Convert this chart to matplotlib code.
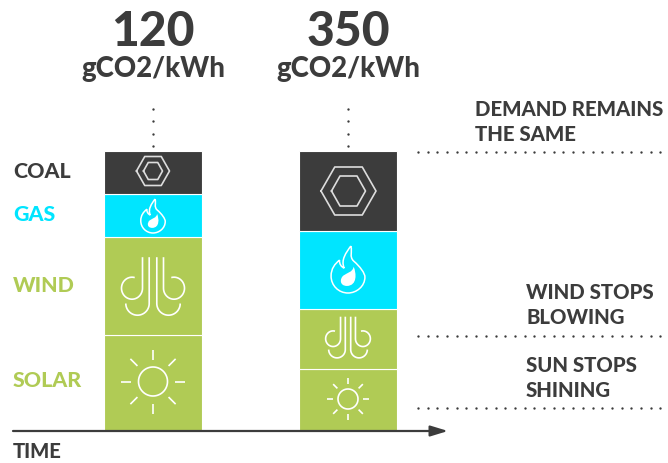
import numpy as np
import matplotlib
matplotlib.use("Agg")
import matplotlib.pyplot as plt
from matplotlib.path import Path
from matplotlib.patches import PathPatch

sources = ["SOLAR", "WIND", "GAS", "COAL"]
scenario_a = [96, 98, 43, 43]
scenario_b = [62, 60, 78, 80]
intensity = ["120", "350"]
unit = "gCO2/kWh"
source_colors = ["#b0cb55", "#b0cb55", "#00e5ff", "#3c3c3c"]
notes = ["DEMAND REMAINS\nTHE SAME", "WIND STOPS\nBLOWING", "SUN STOPS\nSHINING"]

DARK = "#3c3c3c"
plt.rcParams["font.family"] = "Lato"
W = "black"

fig = plt.figure(figsize=(6.68, 4.63), dpi=100)
ax = fig.add_axes([0, 0, 1, 1])
ax.set_xlim(0, 668)
BASE = 431
ax.set_ylim(BASE - 463, BASE)   # y = height above the time axis, in px
ax.axis("off")

def Y(py):
    return BASE - np.asarray(py, dtype=float)

bar_x = [153.2, 348.2]
for x, vals in zip(bar_x, [scenario_a, scenario_b]):
    ax.bar([x] * 4, vals, width=98, bottom=np.cumsum([0] + vals[:-1]),
           color=source_colors, edgecolor="white", linewidth=0.8, zorder=2)

ICON = dict(color="white", lw=1.2, zorder=3, solid_capstyle="butt")
ICON_SOFT = dict(color="#dddddd", lw=1.2, zorder=3)

def hexagon(cx, cy, w, h):
    t = w / 4
    xs = np.array([-w/2, -w/2 + t, w/2 - t, w/2, w/2 - t, -w/2 + t, -w/2]) + cx
    ys = np.array([0, -h/2, -h/2, 0, h/2, h/2, 0]) + cy
    ax.plot(xs, Y(ys), **ICON_SOFT)

def sun(cx, cy, r, r1, r2):
    a = np.linspace(0, 2*np.pi, 80)
    ax.plot(cx + r*np.cos(a), Y(cy + r*np.sin(a)), **ICON)
    for ang in np.arange(8) * np.pi / 4:
        ax.plot([cx + r1*np.cos(ang), cx + r2*np.cos(ang)],
                Y([cy + r1*np.sin(ang), cy + r2*np.sin(ang)]), **ICON)

def wind(cx, cy, s):
    for sign in (-1, 1):
        a = np.radians(np.linspace(0, 285, 60))
        x = np.r_[-10.5, -21 + 10.5*np.cos(a)]
        y = np.r_[-29.3, 1.7 + 11*np.sin(a)]
        ax.plot(cx + sign*x*s, Y(cy + y*s), **ICON)
        a = np.radians(np.linspace(0, 180, 40))
        x = np.r_[-3.8, -15.5 + 11.7*np.cos(a)]
        y = np.r_[-29.3, 17 + 11.7*np.sin(a)]
        ax.plot(cx + sign*x*s, Y(cy + y*s), **ICON)

def flame(cx, cy, h):
    def place(pts):
        pts = np.array(pts, dtype=float)
        return np.c_[cx + pts[:, 0]*h, Y(cy + pts[:, 1]*h)]
    outer = [(0.06, -0.5), (0.10, -0.36), (0.02, -0.28), (0.12, -0.18),
             (0.26, -0.06), (0.36, 0.08), (0.36, 0.16),
             (0.36, 0.36), (0.18, 0.5), (0.0, 0.5),
             (-0.20, 0.5), (-0.36, 0.34), (-0.36, 0.14),
             (-0.36, -0.02), (-0.28, -0.12), (-0.18, -0.2),
             (-0.19, -0.12), (-0.14, -0.05), (-0.08, -0.03),
             (-0.16, -0.2), (-0.04, -0.36), (0.06, -0.5)]
    codes = [Path.MOVETO] + [Path.CURVE4] * (len(outer) - 1)
    ax.add_patch(PathPatch(Path(place(outer), codes), fc="none", ec="white", lw=1.1, zorder=3))
    inner = [(0.12, -0.06), (0.18, 0.08), (0.2, 0.34), (-0.02, 0.35),
             (-0.18, 0.35), (-0.18, 0.2), (-0.1, 0.13),
             (-0.02, 0.07), (0.1, 0.06), (0.12, -0.06)]
    codes = [Path.MOVETO] + [Path.CURVE4] * (len(inner) - 1)
    ax.add_patch(PathPatch(Path(place(inner), codes), fc="white", ec="none", zorder=3))

hexagon(153, 171, 33, 29); hexagon(153, 171, 19, 17)
hexagon(348.5, 191, 55, 48); hexagon(348.5, 191, 34, 30)
flame(153, 216, 34); flame(348, 269.5, 47)
wind(153, 286.5, 1.0); wind(348, 337.5, 0.71)
sun(153, 381.5, 14.5, 22, 32); sun(348, 399, 10, 15, 21)

DOT = dict(ls="none", marker="o", ms=1.7, color=DARK, mew=0, zorder=1)
for x in bar_x:
    ax.plot([x - 0.2] * 4, Y([109, 121.3, 133.6, 146]), **DOT)
for py in [152, 336, 408]:
    xs = np.arange(418, 668, 9.7)
    ax.plot(xs, Y([py] * len(xs)), **DOT)

ax.annotate("", xy=(448, Y(431)), xytext=(13, Y(431)),
            arrowprops=dict(arrowstyle="-|>,head_length=1.05,head_width=0.32",
                            color=DARK, lw=1.6, shrinkA=0, shrinkB=0), zorder=4)

for x, v in zip([153, 348], intensity):
    ax.text(x, Y(46), v, ha="center", va="baseline",
            fontsize=34.5, fontweight=W, color=DARK)
    ax.text(x, Y(77), unit, ha="center", va="baseline",
            fontsize=19.8, fontweight=W, color=DARK)

label_y = [387, 292, 221, 177.5]
for name, py, c in zip(sources, label_y, source_colors):
    ax.text(13, Y(py), name, ha="left", va="baseline", fontsize=15.4,
            fontweight=W, color=c)
ax.text(13, Y(458), "TIME", ha="left", va="baseline", fontsize=14.6,
        fontweight=W, color=DARK)

for note, x, py in zip(notes, [475, 526, 526], [122, 305, 378]):
    ax.text(x, Y(py), note, ha="left", va="center", fontsize=14.7,
            fontweight=W, color=DARK, linespacing=1.4)

fig.savefig("out.png", dpi=100)
